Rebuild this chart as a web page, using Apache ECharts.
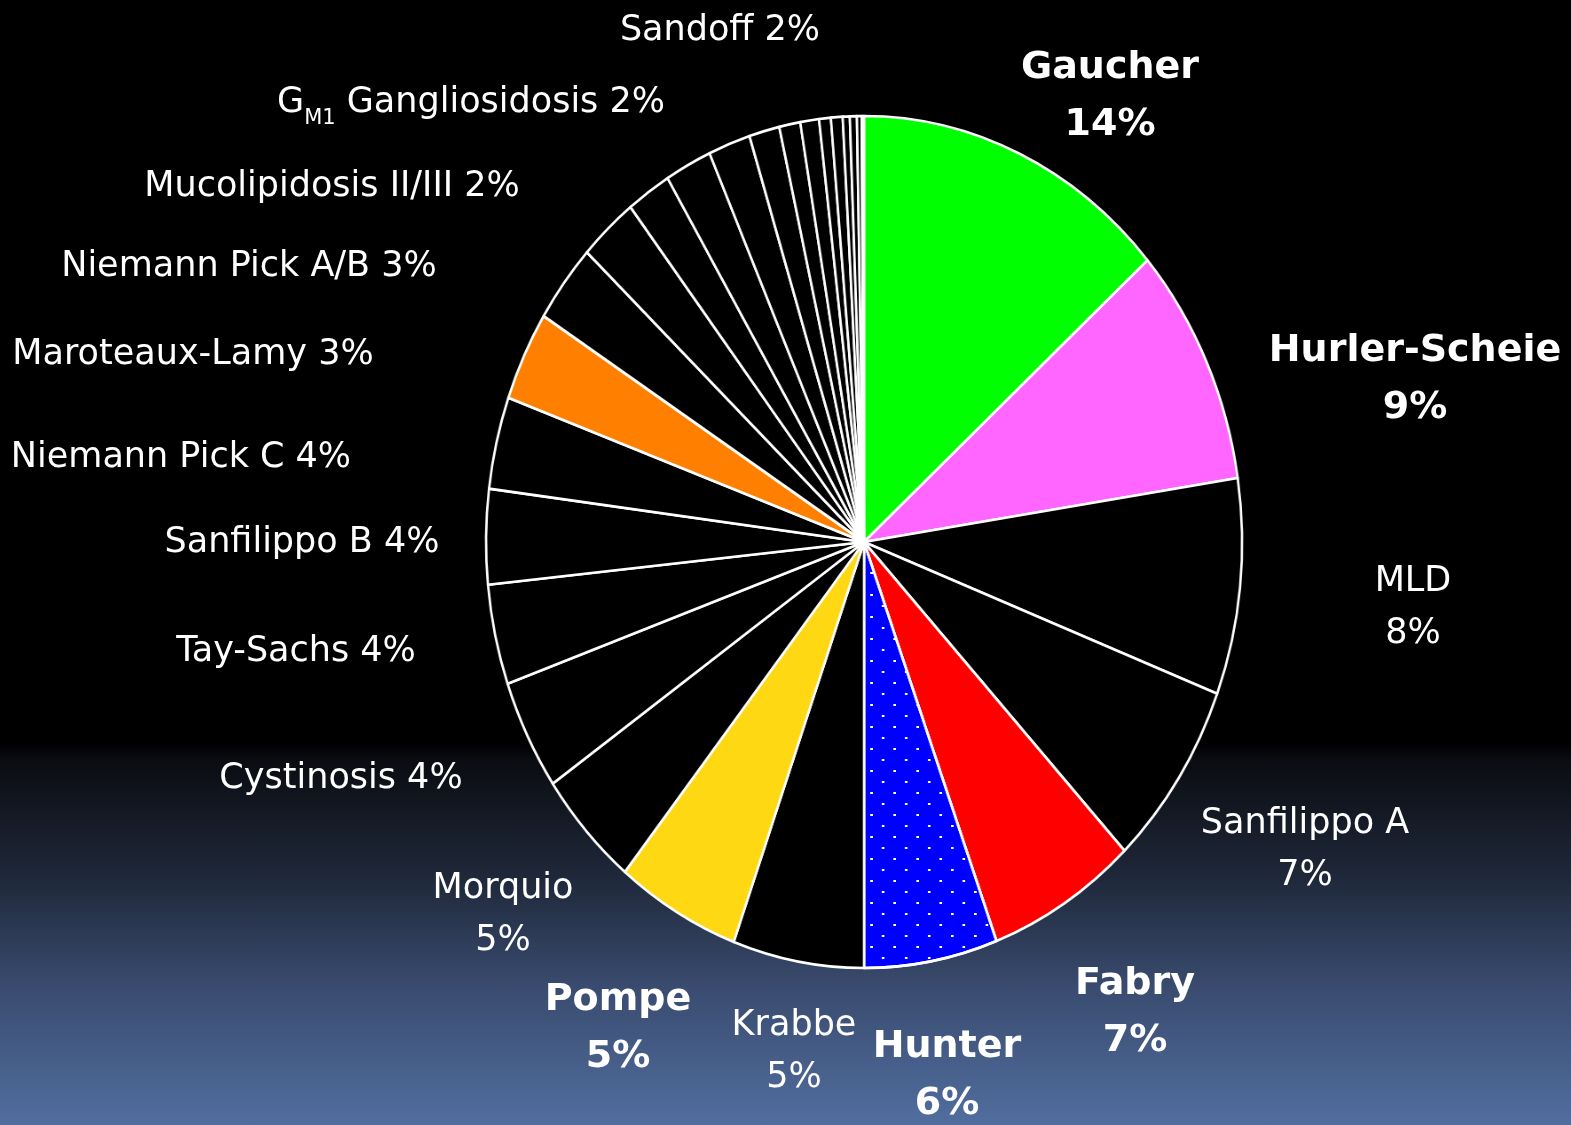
<!DOCTYPE html>
<html><head><meta charset="utf-8">
<script src="https://cdn.jsdelivr.net/npm/echarts@6/dist/echarts.min.js"></script>
<style>
html,body{margin:0;padding:0;width:1571px;height:1125px;overflow:hidden;
background:linear-gradient(to bottom,#000 0%,#000 66%,#0a0c11 67.5%,#1f283a 78%,#3a4c70 88%,#516e9f 100%);}
.layer{position:absolute;left:0;top:0;width:1571px;height:1125px;}
#pie{transform-origin:864px 542px;transform:scaleX(0.8873);}
</style></head><body><div id="pie" class="layer"></div><div id="lab" class="layer"></div>
<script>
// Slices clockwise from 12 o'clock
const names = ['Gaucher','Hurler-Scheie','MLD','Sanfilippo A','Fabry','Hunter','Krabbe','Pompe','Morquio',
  'Cystinosis','Tay-Sachs','Sanfilippo B','Niemann Pick C','Maroteaux-Lamy','Niemann Pick A/B',
  'Mucolipidosis II/III','GM1 Gangliosidosis','Sandoff',
  'Other 1','Other 2','Other 3','Other 4','Other 5','Other 6','Other 7','Other 8','Other 9','Other 10'];
const values = [13.5,9.1,8.2,7.1,6.4,5.7,5.6,5.3,4.5,
  4.2,3.8,3.6,3.5,3.4,3.0,
  2.5,1.9,2.0,
  1.8,1.3,0.9,0.8,0.5,0.5,0.3,0.3,0.2,0.1];
const shownPct = ['14%','9%','8%','7%','7%','6%','5%','5%','5%',
  '4%','4%','4%','4%','3%','3%',
  '2%','2%','2%',
  '','','','','','','','','',''];
const colors = ['#00ff00','#ff66ff','#000000','#000000','#ff0000','#0000ff','#000000','#ffd814','#000000',
  '#000000','#000000','#000000','#000000','#ff8000','#000000',
  '#000000','#000000','#000000',
  '#000000','#000000','#000000','#000000','#000000','#000000','#000000','#000000','#000000','#000000'];

// label styling / layout (not data)
const boldSet = new Set(['Gaucher','Hurler-Scheie','Fabry','Hunter','Pompe']);
const twoLine = new Set(['Gaucher','Hurler-Scheie','MLD','Sanfilippo A','Fabry','Hunter','Krabbe','Pompe','Morquio']);
const labelPos = {
  'Gaucher':[1110,97], 'Hurler-Scheie':[1415,380], 'MLD':[1413,608], 'Sanfilippo A':[1305,850],
  'Fabry':[1135,1013], 'Hunter':[947,1076], 'Krabbe':[794,1052], 'Pompe':[618,1029], 'Morquio':[503,915],
  'Cystinosis':[341,779], 'Tay-Sachs':[296,652], 'Sanfilippo B':[302,543], 'Niemann Pick C':[181,458],
  'Maroteaux-Lamy':[193,355], 'Niemann Pick A/B':[249,267], 'Mucolipidosis II/III':[332,187],
  'GM1 Gangliosidosis':[471,103], 'Sandoff':[720,31]
};
const FONT = '"DejaVu Sans", "Noto Sans", sans-serif';
const CENTER = [864, 542], RADIUS = 426;

// Layer 1: the slices (container squeezed horizontally to the elliptical shape)
const pieData = names.map((n, i) => {
  const item = { name: n, value: values[i], itemStyle: { color: colors[i] } };
  if (n === 'Hunter') {
    item.itemStyle.decal = {
      symbol: 'rect', symbolSize: 1, color: '#ffffff',
      dashArrayX: [[2.4, 22.4], [0, 12.4, 2.4, 10]], dashArrayY: [2, 9]
    };
  }
  return item;
});
const pieChart = echarts.init(document.getElementById('pie'), null, { renderer: 'canvas' });
pieChart.setOption({
  backgroundColor: 'transparent',
  animation: false,
  series: [{
    type: 'pie', center: CENTER, radius: RADIUS, startAngle: 90, clockwise: true,
    minAngle: 0, avoidLabelOverlap: false, silent: true,
    data: pieData,
    itemStyle: { borderColor: '#ffffff', borderWidth: 2.7 },
    emphasis: { disabled: true },
    label: { show: false }, labelLine: { show: false }
  }]
});

// Layer 2: the labels (same series values, transparent slices)
const labData = names.map((n, i) => {
  const item = { name: n, value: values[i] };
  if (!shownPct[i]) {
    item.label = { show: false };
  } else {
    const bold = boldSet.has(n);
    item.label = {
      show: true,
      fontWeight: bold ? 'bold' : 'normal',
      fontSize: bold ? 38 : 35,
      lineHeight: bold ? 57 : 52
    };
  }
  return item;
});
const labChart = echarts.init(document.getElementById('lab'), null, { renderer: 'canvas' });
labChart.setOption({
  backgroundColor: 'transparent',
  animation: false,
  series: [{
    type: 'pie', center: CENTER, radius: RADIUS, startAngle: 90, clockwise: true,
    minAngle: 0, avoidLabelOverlap: false, silent: true,
    data: labData,
    itemStyle: { color: 'rgba(0,0,0,0)', borderWidth: 0 },
    emphasis: { disabled: true },
    labelLine: { show: false },
    label: {
      position: 'outside', color: '#ffffff', fontFamily: FONT, align: 'center',
      formatter: function (p) {
        const i = p.dataIndex, n = names[i];
        if (n === 'GM1 Gangliosidosis') return 'G{sub|M1} Gangliosidosis ' + shownPct[i];
        return twoLine.has(n) ? n + '\n' + shownPct[i] : n + ' ' + shownPct[i];
      },
      rich: {
        sub: { fontSize: 21, color: '#ffffff', fontFamily: FONT, verticalAlign: 'bottom', padding: [18, 0, 0, 0] }
      }
    },
    labelLayout: function (params) {
      const p = labelPos[names[params.dataIndex]];
      if (!p) return {};
      return { x: p[0], y: p[1], align: 'center', verticalAlign: 'middle' };
    }
  }]
});
</script></body></html>
